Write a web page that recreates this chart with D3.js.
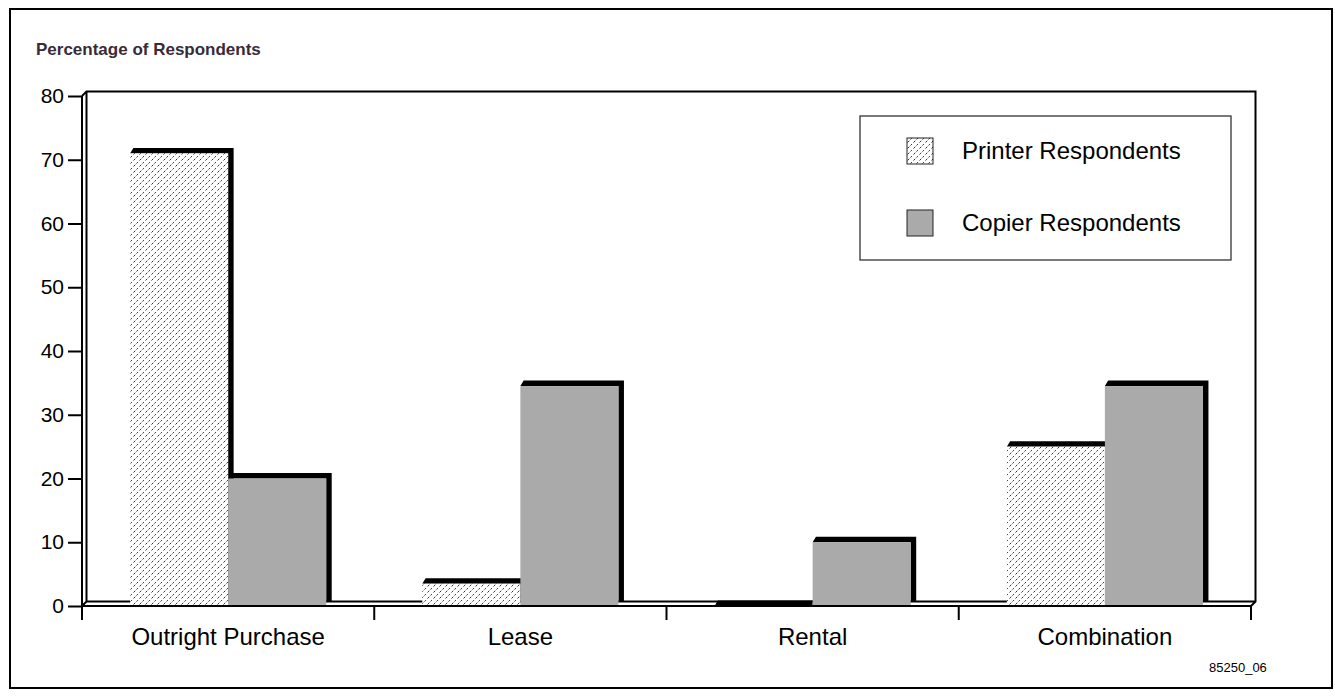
<!DOCTYPE html>
<html>
<head>
<meta charset="utf-8">
<script src="https://cdn.jsdelivr.net/npm/d3@7"></script>
<style>
  html, body { margin: 0; padding: 0; background: #fff; }
  svg { display: block; font-family: "Liberation Sans", Arial, Helvetica, sans-serif; }
</style>
</head>
<body>
<svg id="chart" width="1335" height="696"></svg>
<script>
// Acquisition method by respondent group (percentage of respondents)
const categories = ["Outright Purchase", "Lease", "Rental", "Combination"];
const seriesNames = ["Printer Respondents", "Copier Respondents"];
const printerValues = [71, 3.5, 0, 25];
const copierValues = [20, 34.5, 10, 34.5];
const yTicks = [0, 10, 20, 30, 40, 50, 60, 70, 80];

const svg = d3.select("#chart");

// plot frame (front plane)
const plotL = 82, plotR = 1251, plotT = 96, plotB = 606;
const depth = 4.5;      // offset of the back wall
const barDepth = 5.5;   // extrusion of each bar

const x = d3.scaleBand().domain(categories).range([plotL, plotR]).paddingInner(0).paddingOuter(0);
const xSeries = d3.scaleBand().domain(seriesNames).range([0, x.bandwidth()]).paddingOuter(0.49).paddingInner(0);
const y = d3.scaleLinear().domain([0, 80]).range([plotB, plotT]);

// dotted diagonal hatch for the printer series
const defs = svg.append("defs");
const pat = defs.append("pattern")
  .attr("id", "hatch").attr("patternUnits", "userSpaceOnUse")
  .attr("width", 6).attr("height", 6);
pat.append("rect").attr("width", 6).attr("height", 6).attr("fill", "#fff");
[[5, 0, "#444"], [4, 1, "#999"], [3, 2, "#bbb"], [2, 3, "#333"], [1, 4, "#999"]]
  .forEach(([px, py, c]) => pat.append("rect").attr("x", px).attr("y", py)
    .attr("width", 1).attr("height", 1).attr("fill", c));

// outer frame
svg.append("rect").attr("x", 10).attr("y", 9).attr("width", 1322).attr("height", 679)
  .attr("fill", "none").attr("stroke", "#000").attr("stroke-width", 2);

// title
svg.append("text").attr("x", 36).attr("y", 55)
  .attr("font-size", 17).attr("font-weight", "bold").attr("fill", "#3a2a38")
  .text("Percentage of Respondents");

// back wall and floor
const g = svg.append("g").attr("fill", "none").attr("stroke", "#000").attr("stroke-width", 2);
g.append("path").attr("d",
  `M${plotL},${plotT} L${plotL + depth},${plotT - depth} L${plotR + depth},${plotT - depth} L${plotR + depth},${plotB - depth} L${plotR},${plotB}` +
  ` M${plotL + depth},${plotT - depth} L${plotL + depth},${plotB - depth} L${plotR + depth},${plotB - depth}` +
  ` M${plotL},${plotB} L${plotL + depth},${plotB - depth}`);

// bars
const data = [];
categories.forEach((c, i) => {
  data.push({ cat: c, s: seriesNames[0], v: printerValues[i] });
  data.push({ cat: c, s: seriesNames[1], v: copierValues[i] });
});
const bars = svg.append("g").selectAll("g").data(data).join("g");
bars.each(function(d) {
  const sel = d3.select(this);
  const x0 = x(d.cat) + xSeries(d.s);
  const w = xSeries.bandwidth();
  const yt = y(d.v);
  const yb = y(0) - depth;
  // extruded shadow (top + right side)
  sel.append("path").attr("fill", "#000").attr("d",
    `M${x0},${yt} L${x0 + barDepth * 0.6},${yt - barDepth} L${x0 + w + barDepth},${yt - barDepth} L${x0 + w + barDepth},${yb} L${x0 + w},${yb} L${x0 + w},${yt} Z`);
  // front face
  if (d.v > 0) {
    sel.append("rect").attr("x", x0).attr("y", yt).attr("width", w).attr("height", Math.max(0, y(0) - yt))
      .attr("fill", d.s === seriesNames[0] ? "url(#hatch)" : "#aaaaaa");
  }
});

// front axes
const axes = svg.append("g").attr("stroke", "#000").attr("stroke-width", 2).attr("fill", "none");
axes.append("line").attr("x1", plotL).attr("x2", plotL).attr("y1", plotT).attr("y2", plotB + 14);
axes.append("line").attr("x1", plotL).attr("x2", plotR).attr("y1", plotB).attr("y2", plotB);

// y axis
const yAxis = d3.axisLeft(y).tickValues(yTicks).tickSize(14).tickPadding(4);
const ya = svg.append("g").attr("transform", `translate(${plotL},0)`).call(yAxis);
ya.select(".domain").remove();
ya.selectAll(".tick line").attr("stroke", "#000").attr("stroke-width", 2);
ya.selectAll(".tick text").attr("font-size", 21).attr("fill", "#000")
  .attr("font-family", "Liberation Sans, Arial, sans-serif");

// x axis ticks at category boundaries
const bounds = categories.map(c => x(c)).concat([plotR]);
svg.append("g").selectAll("line").data(bounds).join("line")
  .attr("x1", d => d).attr("x2", d => d).attr("y1", plotB).attr("y2", plotB + 14)
  .attr("stroke", "#000").attr("stroke-width", 2);
svg.append("g").selectAll("text").data(categories).join("text")
  .attr("x", d => x(d) + x.bandwidth() / 2).attr("y", 645)
  .attr("text-anchor", "middle").attr("font-size", 24).attr("fill", "#000")
  .text(d => d);

// legend
const leg = svg.append("g");
leg.append("rect").attr("x", 860).attr("y", 116).attr("width", 371).attr("height", 144)
  .attr("fill", "#fff").attr("stroke", "#222").attr("stroke-width", 1.2);
const legY = [151, 223];
seriesNames.forEach((s, i) => {
  leg.append("rect").attr("x", 907).attr("y", legY[i] - 13).attr("width", 26).attr("height", 26)
    .attr("fill", i === 0 ? "url(#hatch)" : "#aaaaaa").attr("stroke", "#222").attr("stroke-width", 1);
  leg.append("text").attr("x", 962).attr("y", legY[i] + 8).attr("font-size", 24).attr("fill", "#000").text(s);
});

// figure id
svg.append("text").attr("x", 1209).attr("y", 672).attr("font-size", 13).attr("fill", "#000").text("85250_06");
</script>
</body>
</html>
